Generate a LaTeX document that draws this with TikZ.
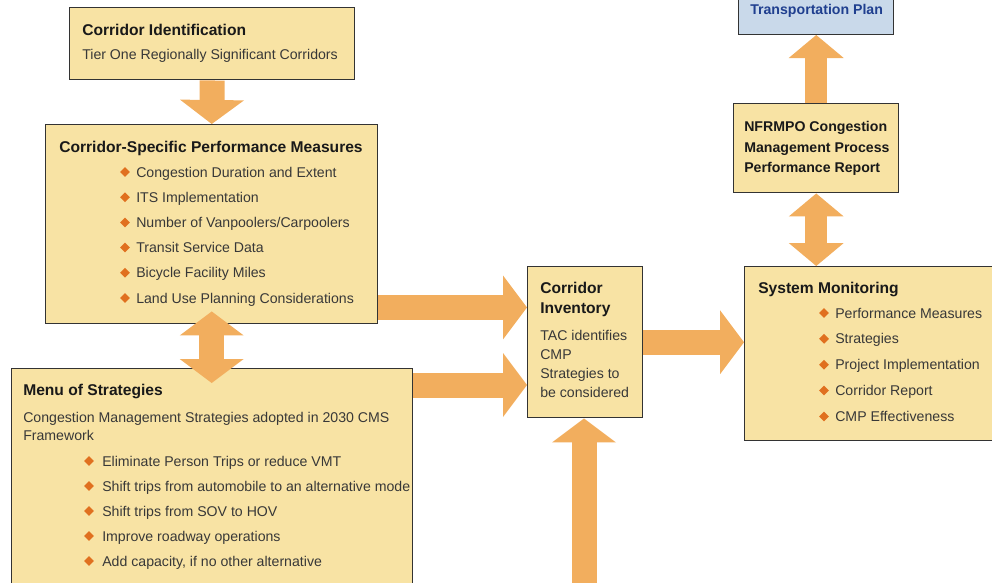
\documentclass[tikz,border=0pt]{standalone}
\usepackage{fontspec}
\setmainfont{Liberation Sans}
\usetikzlibrary{arrows.meta,positioning,shapes.geometric}
\definecolor{boxc}{HTML}{F8E3A4}
\definecolor{planc}{HTML}{C9D9EA}
\definecolor{arrowc}{HTML}{F2AE5E}
\definecolor{bulletc}{HTML}{E0701F}
\definecolor{textc}{HTML}{383838}
\definecolor{linec}{HTML}{333333}
\definecolor{plantext}{HTML}{1F3F8F}

\begin{document}
\begin{tikzpicture}[x=0.75pt, y=-0.75pt,
    box/.style={draw=linec, line width=1.1pt, fill=boxc, rectangle, inner sep=0pt, anchor=north west},
    title/.style={anchor=base west, inner sep=0pt, font=\fontsize{11.7}{13}\selectfont\bfseries, text=black!90},
    txt/.style={anchor=base west, inner sep=0pt, font=\fontsize{10.6}{12}\selectfont, text=textc},
    bullet/.style={diamond, fill=bulletc, inner sep=0pt, minimum width=7.5pt, minimum height=7.5pt},
    fatarrow/.style={draw=arrowc, line width=18.75pt, >={Triangle[width=48pt, length=18pt, line width=0pt]}},
    slimarrow/.style={draw=arrowc, line width=16.5pt, >={Triangle[width=41.25pt, length=17.25pt, line width=0pt]}}]
  \useasboundingbox (0,0) rectangle (992,582);
  \clip (0,0) rectangle (992,582);

  % boxes
  \node[box, minimum width=213.75pt, minimum height=54pt] (ci) at (69,7) {};
  \node[box, minimum width=249pt, minimum height=149.25pt] (cspm) at (45,124) {};
  \node[box, minimum width=300.75pt, minimum height=174pt] (menu) at (11,368) {};
  \node[box, minimum width=86.25pt, minimum height=113.25pt] (inv) at (527,266) {};
  \node[box, minimum width=192pt, minimum height=130.5pt] (sys) at (744,266) {};
  \node[box, minimum width=123.75pt, minimum height=66.75pt] (nfr) at (733,103) {};
  \node[box, fill=planc, anchor=south west, minimum width=116.25pt, minimum height=56.25pt] (plan) at (738,35) {};

  % corridor identification
  \node[title] (ci-t) at (82,35) {Corridor Identification};
  \node[txt] (ci-s) at (82,59) {Tier One Regionally Significant Corridors};

  % performance measures
  \node[title] (cspm-t) at (59,152) {Corridor-Specific Performance Measures};
  \foreach \t [count=\i from 0] in {Congestion Duration and Extent, ITS Implementation,
      Number of Vanpoolers/Carpoolers, Transit Service Data, Bicycle Facility Miles,
      Land Use Planning Considerations} {
    \node[bullet] (cspm-b\i) at (125,172+25.2*\i) {};
    \node[txt] (cspm-\i) at (136,177+25.2*\i) {\t};
  }

  % strategies
  \node[title] (menu-t) at (23,395) {Menu of Strategies};
  \node[txt] (menu-s1) at (23,422) {Congestion Management Strategies adopted in 2030 CMS};
  \node[txt] (menu-s2) at (23,440) {Framework};
  \foreach \t [count=\i from 0] in {Eliminate Person Trips or reduce VMT,
      Shift trips from automobile to an alternative mode, Shift trips from SOV to HOV,
      Improve roadway operations, {Add capacity, if no other alternative}} {
    \node[bullet] (menu-b\i) at (89,461+25*\i) {};
    \node[txt] (menu-\i) at (102,466+25*\i) {\t};
  }

  % inventory
  \node[title] (inv-t1) at (540,293) {Corridor};
  \node[title] (inv-t2) at (540,313) {Inventory};
  \foreach \t [count=\i from 0] in {TAC identifies, CMP, Strategies to, be considered}
    \node[txt] (inv-\i) at (540,340+19.3*\i) {\t};

  % monitoring
  \node[title] (sys-t) at (758,293) {System Monitoring};
  \foreach \t [count=\i from 0] in {Performance Measures, Strategies, Project Implementation,
      Corridor Report, CMP Effectiveness} {
    \node[bullet] (sys-b\i) at (824,313+25.85*\i) {};
    \node[txt] (sys-\i) at (835,318+25.85*\i) {\t};
  }

  % report and plan
  \node[title, font=\fontsize{10.6}{12}\selectfont\bfseries] (nfr-1) at (744,131) {NFRMPO Congestion};
  \node[title, font=\fontsize{10.6}{12}\selectfont\bfseries] (nfr-2) at (744,152) {Management Process};
  \node[title, font=\fontsize{10.6}{12}\selectfont\bfseries] (nfr-3) at (744,172) {Performance Report};
  \node[title, font=\fontsize{10.6}{12}\selectfont\bfseries, text=plantext] (plan-t) at (750,14) {Transportation Plan};

  % arrows
  \coordinate (m1) at ([yshift=12.75pt]cspm.south east);
  \coordinate (m2) at ([yshift=-12.75pt]menu.north east);
  \coordinate (feed) at (584,600);
  \draw[fatarrow, ->] (ci.south) -- (cspm.north);
  \draw[fatarrow, <->, shorten <=-9.75pt, shorten >=-11.25pt] (cspm.south) -- (cspm.south |- menu.north);
  \draw[fatarrow, ->] (m1) -- (m1 -| inv.west);
  \draw[fatarrow, ->] (m2) -- (m2 -| inv.west);
  \draw[fatarrow, ->] (inv.east) -- (inv.east -| sys.west);
  \draw[fatarrow, ->] (feed) -- (feed |- inv.south);
  \draw[slimarrow, <->] (nfr.south) -- (nfr.south |- sys.north);
  \draw[slimarrow, ->] (nfr.north) -- (nfr.north |- plan.south);
\end{tikzpicture}
\end{document}
